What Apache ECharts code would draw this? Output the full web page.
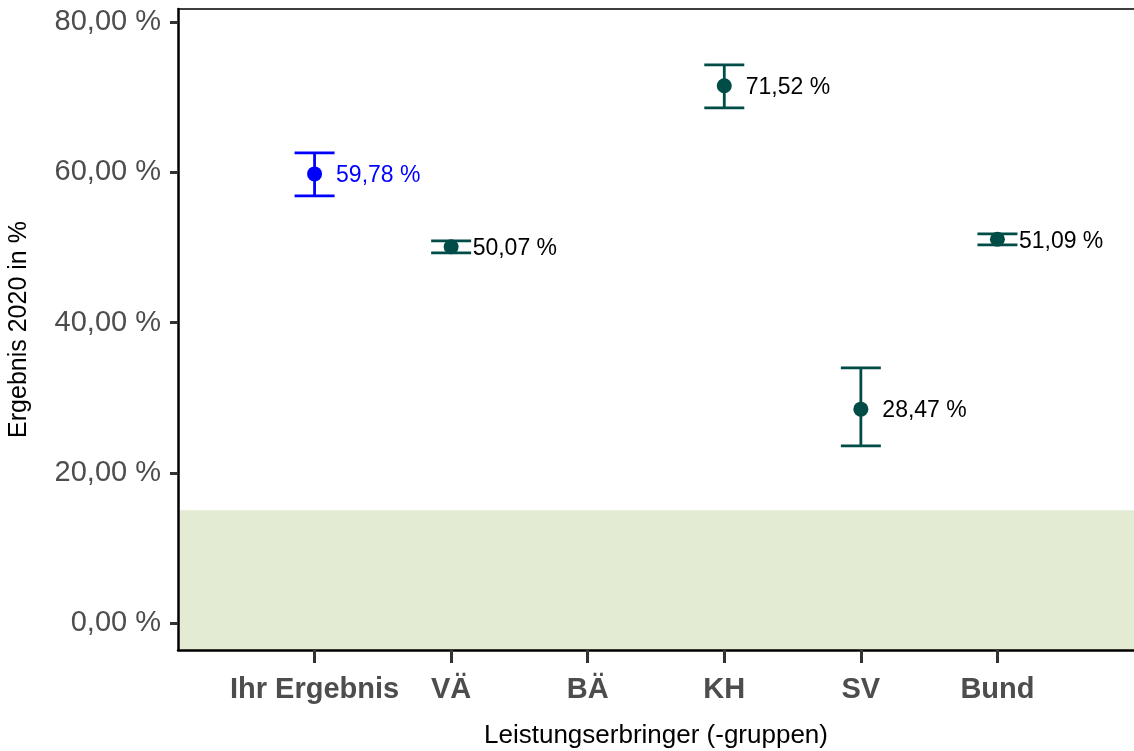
<!DOCTYPE html>
<html>
<head>
<meta charset="utf-8">
<script src="https://cdn.jsdelivr.net/npm/echarts@6/dist/echarts.min.js"></script>
<style>
  html, body { margin: 0; padding: 0; background: #fff; }
  #chart { width: 1134px; height: 751px; }
</style>
</head>
<body>
<div id="chart"></div>
<script>
// Kategorien (Position 1..6 auf der x-Achse)
var categories = ["Ihr Ergebnis", "VÄ", "BÄ", "KH", "SV", "Bund"];
// Ergebnis 2020 in %, null = kein Wert (BÄ)
var values = [59.78, 50.07, null, 71.52, 28.47, 51.09];
var lower = [56.86, 49.27, null, 68.58, 23.57, 50.33];
var upper = [62.58, 50.86, null, 74.30, 33.95, 51.80];
var yTicks = [0, 20, 40, 60, 80];
var bandTop = 15;
var yMin = -3.59, yMax = 81.73;

var BLUE = "#0000ff";
var TEAL = "#004d47";

function fmt(v) {
  return v.toFixed(2).replace(".", ",") + " %";
}

var points = [], bars = [];
values.forEach(function (v, i) {
  if (v == null) return;
  var c = i == 0 ? BLUE : TEAL;
  points.push({
    value: [i + 1, v],
    itemStyle: { color: c, opacity: 1 },
    label: { color: i == 0 ? BLUE : "#000" },
  });
  bars.push({ value: [i + 1, lower[i], upper[i]], itemStyle: { color: c } });
});

var chart = echarts.init(document.getElementById("chart"));
var option = {
  animation: false,
  grid: { left: 178, right: 0, top: 9, bottom: 101, outerBoundsMode: "none" },
  xAxis: [
    {
      type: "value",
      min: 0,
      max: 7,
      z: 10,
      splitLine: { show: false },
      axisLine: { show: true, onZero: false, lineStyle: { color: "#000", width: 2.5 } },
      axisTick: {
        show: true,
        length: 13,
        customValues: [1, 2, 3, 4, 5, 6],
        lineStyle: { color: "#333", width: 3 },
      },
      axisLabel: {
        customValues: [1, 2, 3, 4, 5, 6],
        formatter: function (v) {
          return categories[Math.round(v) - 1] || "";
        },
        fontFamily: "Liberation Sans",
        fontWeight: "bold",
        fontSize: 29,
        color: "#4d4d4d",
        margin: 25,
      },
      name: "Leistungserbringer (-gruppen)",
      nameLocation: "middle",
      nameGap: 73,
      nameTextStyle: { fontFamily: "Liberation Sans", fontSize: 26, color: "#000" },
    },
    {
      type: "value",
      position: "top",
      min: 0,
      max: 7,
      z: 10,
      splitLine: { show: false },
      axisLine: { show: true, onZero: false, lineStyle: { color: "#000", width: 1.5 } },
      axisTick: { show: false },
      axisLabel: { show: false },
    },
  ],
  yAxis: {
    type: "value",
    min: yMin,
    max: yMax,
    z: 10,
    splitLine: { show: false },
    axisLine: { show: true, onZero: false, lineStyle: { color: "#000", width: 2.5 } },
    axisTick: {
      show: true,
      length: 8,
      customValues: yTicks,
      lineStyle: { color: "#333", width: 3 },
    },
    axisLabel: {
      customValues: yTicks,
      formatter: fmt,
      fontFamily: "Liberation Sans",
      fontSize: 29,
      color: "#4d4d4d",
      margin: 17,
    },
    name: "Ergebnis 2020 in %",
    nameLocation: "middle",
    nameGap: 146,
    nameRotate: 90,
    nameTextStyle: { fontFamily: "Liberation Sans", fontSize: 25, color: "#000" },
  },
  series: [
    {
      type: "custom",
      z: 3,
      data: bars,
      renderItem: function (params, api) {
        var x = api.value(0);
        var lo = api.coord([x, api.value(1)]);
        var hi = api.coord([x, api.value(2)]);
        var color = api.visual("color");
        var w = 20;
        var st = { stroke: color, lineWidth: 2.8 };
        return {
          type: "group",
          children: [
            { type: "line", shape: { x1: lo[0], y1: lo[1], x2: hi[0], y2: hi[1] }, style: st },
            { type: "line", shape: { x1: lo[0] - w, y1: lo[1], x2: lo[0] + w, y2: lo[1] }, style: st },
            { type: "line", shape: { x1: hi[0] - w, y1: hi[1], x2: hi[0] + w, y2: hi[1] }, style: st },
          ],
        };
      },
    },
    {
      type: "scatter",
      z: 4,
      symbolSize: 15,
      data: points,
      label: {
        show: true,
        position: "right",
        distance: 14,
        offset: [0, 2],
        fontFamily: "Liberation Sans",
        fontSize: 23,
        formatter: function (p) {
          return fmt(p.value[1]);
        },
      },
      markArea: {
        silent: true,
        itemStyle: { color: "#e3ebd3" },
        data: [[{ yAxis: yMin }, { yAxis: bandTop }]],
      },
    },
  ],
};
chart.setOption(option);
</script>
</body>
</html>
